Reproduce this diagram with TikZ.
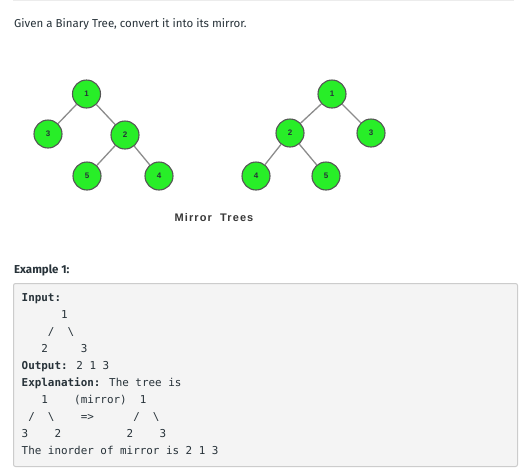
\documentclass[tikz,border=0pt]{standalone}
\usepackage{fontspec}
\setmainfont{Fira Sans}
\newfontfamily\titlefont{Fira Sans}
\newfontfamily\codefont{DejaVu Sans Mono}
\newfontfamily\capfont[LetterSpace=10]{Liberation Sans}
\newfontfamily\lblfont{Liberation Sans}
\definecolor{nodegreen}{RGB}{40,238,40}
\definecolor{nodeborder}{RGB}{85,85,85}
\definecolor{edgegray}{RGB}{140,140,140}
\definecolor{textdark}{RGB}{39,50,57}
\definecolor{boxfill}{RGB}{244,244,244}
\definecolor{boxline}{RGB}{204,204,204}
\definecolor{topline}{RGB}{236,236,236}
\begin{document}
\begin{tikzpicture}[x=1pt,y=-1pt,
  treenode/.style={circle,draw=nodeborder,line width=1.1pt,fill=nodegreen,minimum size=28pt,inner sep=0pt,
    font=\lblfont\bfseries\fontsize{8}{9}\selectfont,text=textdark},
  treeedge/.style={draw=edgegray,line width=1.3pt},
  codeline/.style={anchor=base west,inner sep=0pt,font=\codefont\fontsize{10.9}{12}\selectfont,text=textdark},
  plaintext/.style={anchor=base west,inner sep=0pt,text=textdark}]
\useasboundingbox (0,0) rectangle (528,475);
\fill[white] (0,0) rectangle (528,475);
\draw[topline,line width=1pt] (13,0.5) -- (514,0.5);
\node[plaintext,font=\titlefont\fontsize{11.5}{13}\selectfont] (title) at (14,27) {Given a Binary Tree, convert it into its mirror.};
% left tree
\node[treenode] (a1) at (86.5,94) {1};
\node[treenode] (a3) at (48,134) {3};
\node[treenode] (a2) at (125,135) {2};
\node[treenode] (a5) at (87,176) {5};
\node[treenode] (a4) at (159,176) {4};
% right tree
\node[treenode] (b1) at (332,94) {1};
\node[treenode] (b2) at (290,133) {2};
\node[treenode] (b3) at (371,133) {3};
\node[treenode] (b4) at (256,176) {4};
\node[treenode] (b5) at (326,176) {5};
\path[treeedge] (a1) -- (a3) (a1) -- (a2) (a2) -- (a5) (a2) -- (a4)
  (b1) -- (b2) (b1) -- (b3) (b2) -- (b4) (b2) -- (b5);
\node[anchor=base,inner sep=0pt,font=\capfont\bfseries\fontsize{11}{12}\selectfont,text=black!78] (cap) at (214,221.5) {Mirror~~Trees};
\node[plaintext,font=\titlefont\bfseries\fontsize{11.5}{13}\selectfont] (ex) at (14,273.5) {Example 1:};
\draw[boxline,fill=boxfill,line width=1pt,rounded corners=2pt] (13.5,283.5) rectangle (517.5,466.5);
\node[codeline] (l1) at (21.5,301) {\bfseries Input:};
\node[codeline] (l2) at (21.5,318.1) {~~~~~~1};
\node[codeline] (l3) at (21.5,335.2) {~~~~/~~\textbackslash};
\node[codeline] (l4) at (21.5,352.3) {~~~2~~~~~3};
\node[codeline] (l5) at (21.5,369.4) {\textbf{Output:} 2 1 3};
\node[codeline] (l6) at (21.5,386.5) {\textbf{Explanation:} The tree is};
\node[codeline] (l7) at (21.5,403.6) {~~~1~~~~(mirror)~~1};
\node[codeline] (l8) at (21.5,420.7) {~/~~\textbackslash~~~~=>~~~~~~/~~\textbackslash};
\node[codeline] (l9) at (21.5,437.8) {3~~~~2~~~~~~~~~~2~~~~3};
\node[codeline] (l10) at (21.5,454.9) {The inorder of mirror is 2 1 3};
\end{tikzpicture}
\end{document}
